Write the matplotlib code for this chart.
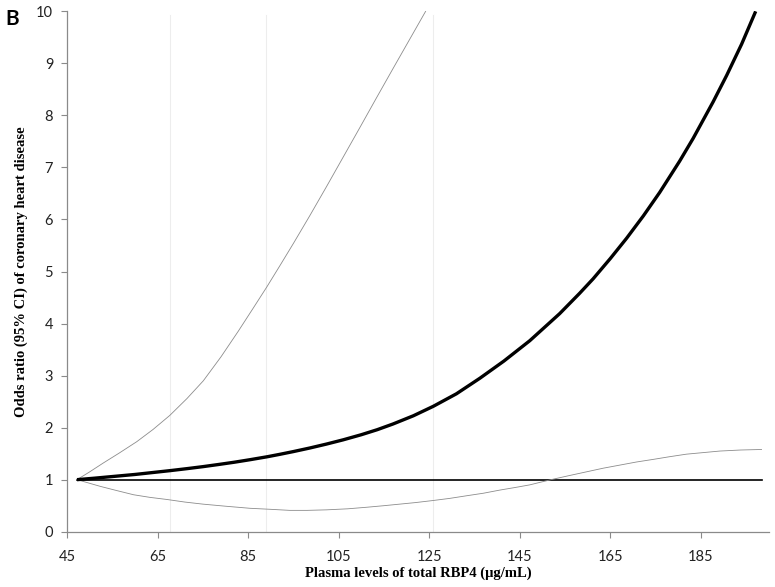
import numpy as np
import matplotlib.pyplot as plt

# values (RBP4 in ug/mL vs odds ratio)
or_x = [47.2, 51, 55, 60, 64, 67.8, 71.5, 75, 78.5, 82, 85.5, 89.2, 92, 95,
        98.6, 102.3, 106, 110, 113.5, 117, 121.5, 125.9, 131, 136.2, 141.5,
        147.2, 150.5, 153.8, 158.2, 161.2, 165, 168.6, 172.3, 175.9, 180.3,
        183.3, 187.7, 190.7, 194, 197.1]
or_y = [1.0, 1.028, 1.06, 1.10, 1.138, 1.174, 1.212, 1.25, 1.292, 1.336, 1.385,
        1.44, 1.487, 1.54, 1.608, 1.684, 1.766, 1.864, 1.96, 2.07, 2.228, 2.41,
        2.65, 2.95, 3.28, 3.67, 3.93, 4.19, 4.58, 4.86, 5.25, 5.64, 6.07, 6.52,
        7.12, 7.56, 8.26, 8.77, 9.37, 10.0]

upper_x = [47.2, 50, 53.0, 56.5, 60.4, 64, 67.7, 71.5, 75.1, 79, 82.8, 86, 89.1,
           92, 95, 98.6, 102.3, 106, 109.7, 113.3, 117, 120.6, 124.2]
upper_y = [1.0, 1.15, 1.32, 1.51, 1.73, 1.965, 2.235, 2.56, 2.90, 3.36, 3.85, 4.28,
           4.70, 5.11, 5.54, 6.07, 6.63, 7.20, 7.77, 8.33, 8.90, 9.45, 10.0]

lower_x = [47.2, 50, 52.4, 56, 59.7, 63.3, 67, 71, 75, 80, 85.4, 90, 94.2, 98,
           102.3, 107, 111.2, 115, 118.5, 122, 125.9, 129.5, 133.2, 137, 140.6,
           144, 147.2, 150, 152.4, 156, 159.7, 163.4, 167.1, 170.8, 174.5, 178,
           181.8, 185.5, 189.2, 193.8, 198.4]
lower_y = [1.0, 0.93, 0.87, 0.79, 0.71, 0.66, 0.62, 0.57, 0.53, 0.49, 0.45, 0.43,
           0.41, 0.41, 0.42, 0.44, 0.47, 0.50, 0.53, 0.56, 0.60, 0.64, 0.69, 0.74,
           0.80, 0.85, 0.90, 0.96, 1.01, 1.08, 1.15, 1.22, 1.28, 1.34, 1.39, 1.44,
           1.49, 1.52, 1.55, 1.57, 1.58]

ref_x = [47.2, 198.6]
ref_y = [1.0, 1.0]

knots = [67.7, 88.9, 125.9]
xticks = [45, 65, 85, 105, 125, 145, 165, 185]
yticks = list(range(11))

fig = plt.figure(figsize=(7.75, 5.87), dpi=100)
ax = fig.add_axes([0.0865, 0.0942, 0.9055, 0.8865])

for k in knots:
    ax.plot([k, k], [0, 9.93], color='#ededed', lw=0.8, zorder=1)

ax.plot(ref_x, ref_y, color='black', lw=1.2, zorder=2)
ax.plot(upper_x, upper_y, color='#8c8c8c', lw=0.6, zorder=3)
ax.plot(lower_x, lower_y, color='#8c8c8c', lw=0.6, zorder=3)
ax.plot(or_x, or_y, color='black', lw=2.4, solid_capstyle='butt',
        solid_joinstyle='round', zorder=4)

ax.set_xlim(45, 200)
ax.set_ylim(0, 10)
ax.set_xticks(xticks)
ax.set_yticks(yticks)

for s in ['top', 'right']:
    ax.spines[s].set_visible(False)
for s in ['left', 'bottom']:
    ax.spines[s].set_color('#8a8a8a')
    ax.spines[s].set_linewidth(0.9)

ax.tick_params(axis='both', direction='out', length=4, width=0.8, color='#8a8a8a',
               labelsize=10.5, labelcolor='#222222')
ax.tick_params(axis='x', pad=9)
ax.tick_params(axis='y', pad=6)
for lab in ax.get_xticklabels() + ax.get_yticklabels():
    lab.set_family('Lato')

ax.set_xlabel('Plasma levels of total RBP4 (\u03bcg/mL)', family='Liberation Serif',
              fontweight='bold', fontsize=10.5, labelpad=2)
ax.set_ylabel('Odds ratio (95% CI) of coronary heart disease', family='Liberation Serif',
              fontweight='bold', fontsize=10.5, labelpad=6)

fig.text(0.007, 0.968, 'B', family='Lato', fontweight='bold', fontsize=15, va='center')

fig.savefig('out.png', dpi=100)
